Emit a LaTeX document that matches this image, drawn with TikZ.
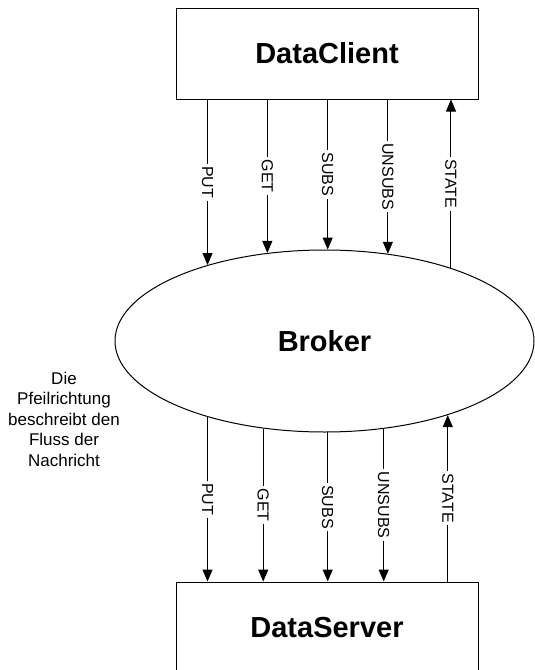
\documentclass[tikz,border=0pt]{standalone}
\usepackage{fontspec}
\setmainfont{Liberation Sans}
\usetikzlibrary{arrows.meta, positioning, shapes.geometric}

\begin{document}
\begin{tikzpicture}[
  x=1pt, y=-1pt,
  box/.style={draw, line width=1pt, minimum width=302pt, minimum height=91pt, font=\fontsize{29}{34}\selectfont\bfseries},
  broker/.style={draw, ellipse, line width=1pt, minimum width=419pt, minimum height=182pt, inner sep=0pt, font=\fontsize{29}{34}\selectfont\bfseries},
  lbl/.style={fill=white, rotate=-90, inner sep=2.5pt, font=\fontsize{16}{19}\selectfont},
  note/.style={align=center, font=\fontsize{17}{20.5}\selectfont},
  arr/.style={-{Triangle[length=12pt, width=10pt]}, line width=1pt}
]
\useasboundingbox (0,0) rectangle (535,670);

\node[box] (client) at (327,53.5) {DataClient};
\node[broker] (broker) at (324.5,341) {Broker};
\node[box] (server) at (327,627.5) {DataServer};
\node[note] (hint) at (64,419) {Die\\Pfeilrichtung\\beschreibt den\\Fluss der\\Nachricht};

% client <-> broker
\draw[arr] (client.south -| broker.147.65) -- (broker.147.65) node[midway, lbl] {PUT};
\draw[arr] (client.south -| broker.123.31) -- (broker.123.31) node[midway, lbl] {GET};
\draw[arr] (client.south -| broker.88.43) -- (broker.88.43) node[midway, lbl] {SUBS};
\draw[arr] (client.south -| broker.54.27) -- (broker.54.27) node[midway, lbl] {UNSUBS};
\draw[arr] (broker.30.76) -- (client.south -| broker.30.76) node[midway, lbl] {STATE};

% broker <-> server
\draw[arr] (broker.-147.02) -- (server.north -| broker.-147.02) node[midway, lbl] {PUT};
\draw[arr] (broker.-125.26) -- (server.north -| broker.-125.26) node[midway, lbl] {GET};
\draw[arr] (broker.-88.43) -- (server.north -| broker.-88.43) node[midway, lbl] {SUBS};
\draw[arr] (broker.-56.69) -- (server.north -| broker.-56.69) node[midway, lbl] {UNSUBS};
\draw[arr] (server.north -| broker.-31.69) -- (broker.-31.69) node[midway, lbl] {STATE};
\end{tikzpicture}
\end{document}
